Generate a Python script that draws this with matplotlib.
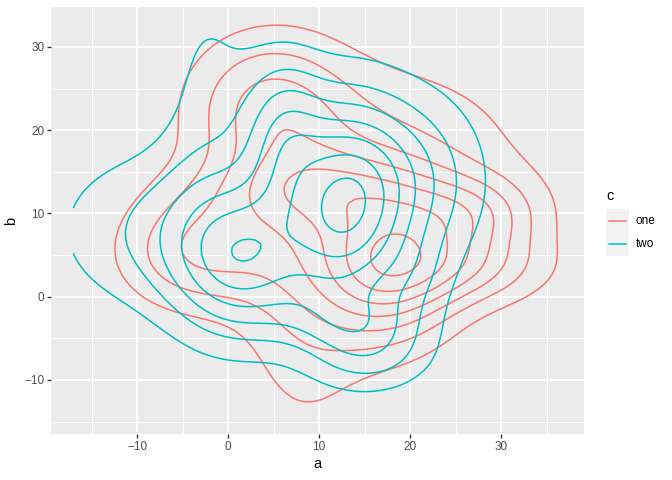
import numpy as np
import matplotlib.pyplot as plt
from matplotlib.lines import Line2D
from matplotlib.patches import Rectangle

# Density bumps for each group: centre (a, b), spread, height.
one_x = [17.51, 26.83, 10.13, 17.55, 3.64, 26.23, 8.40, -3.06]
one_y = [3.74, 9.91, 12.85, 16.80, 22.93, 3.52, 2.70, 5.48]
one_sa = [5.47, 5.13, 9.34, 11.09, 5.95, 6.33, 5.32, 6.30]
one_sb = [6.24, 3.20, 3.25, 8.32, 6.12, 3.20, 13.78, 5.03]
one_w = [5.26, 2.64, 1.77, 1.91, 2.50, 2.50, 1.77, 2.93]
one_a_range = [-14, 37]
one_b_range = [-15.5, 33.5]

two_x = [12.71, 1.74, -2.3, 19.77, -8.74, 16.00, 20.41, 5.90, 12.99]
two_y = [10.50, 4.45, 23.5, 13.94, 7.97, -6.65, 2.03, 19.58, -2.62]
two_sa = [4.53, 5.33, 3.7, 5.85, 7.87, 4.86, 3.03, 3.26, 5.56]
two_sb = [8.93, 6.51, 13.3, 7.70, 7.11, 3.37, 3.70, 6.59, 2.52]
two_w = [5.64, 4.78, 1.12, 2.83, 1.85, 2.02, 0.93, 3.03, 1.11]
two_a_range = [-17, 30]
two_b_range = [-12.5, 33]

levels = [1, 2, 3, 4, 5, 6, 7]
groups = ["one", "two"]
COLORS = {"one": "#F8766D", "two": "#00BFC4"}


def density(xs, ys, sas, sbs, ws, a_range, b_range, n=100):
    a = np.linspace(*a_range, n)
    b = np.linspace(*b_range, n)
    aa, bb = np.meshgrid(a, b)
    z = np.zeros_like(aa)
    for x, y, sa, sb, w in zip(xs, ys, sas, sbs, ws):
        z += w * np.exp(-0.5 * ((aa - x) ** 2 / sa ** 2 + (bb - y) ** 2 / sb ** 2))
    return aa, bb, z


plt.rcParams["font.family"] = ["Liberation Sans", "DejaVu Sans"]
W_PX, H_PX = 672, 480
fig = plt.figure(figsize=(W_PX / 96, H_PX / 96), dpi=96)
ax = fig.add_axes([51 / W_PX, (H_PX - 434) / H_PX, 533 / W_PX, 427 / H_PX])
ax.set_facecolor("#EBEBEB")

surfaces = {
    "one": density(one_x, one_y, one_sa, one_sb, one_w, one_a_range, one_b_range),
    "two": density(two_x, two_y, two_sa, two_sb, two_w, two_a_range, two_b_range),
}
for name in groups:
    aa, bb, z = surfaces[name]
    ax.contour(aa, bb, z, levels=levels, colors=COLORS[name], linewidths=1.15)

ax.set_xlim(-19.45, 39.1)
ax.set_ylim(-16.5, 34.8)
ax.set_xticks([-10, 0, 10, 20, 30])
ax.set_yticks([-10, 0, 10, 20, 30])
ax.set_xticks([-15, -5, 5, 15, 25, 35], minor=True)
ax.set_yticks([-15, -5, 5, 15, 25], minor=True)
ax.grid(which="major", color="white", lw=1.4)
ax.grid(which="minor", color="white", lw=0.7)
ax.set_axisbelow(True)
for s in ax.spines.values():
    s.set_visible(False)
ax.tick_params(which="major", length=2.75, width=1.0, color="#333333", labelsize=8.8,
               labelcolor="#4D4D4D", pad=2.2)
ax.tick_params(which="minor", length=0)
ax.set_xlabel("a", fontsize=11, labelpad=3)
ax.set_ylabel("b", fontsize=11, labelpad=5)


# legend drawn by hand in pixel positions, ggplot style
def px(x, y):
    return x / W_PX, (H_PX - y) / H_PX


fig.text(*px(606, 196), "c", fontsize=11, va="center", ha="left")
for i, name in enumerate(groups):
    top = 209 + i * 23.5
    x0, y0 = px(606, top + 23.5)
    fig.patches.append(Rectangle((x0, y0), 23 / W_PX, 23.5 / H_PX, transform=fig.transFigure,
                                 facecolor="#F2F2F2", edgecolor="none"))
    yc = top + 11.75
    fig.lines.append(Line2D([609 / W_PX, 626 / W_PX], [(H_PX - yc) / H_PX] * 2, transform=fig.transFigure,
                            color=COLORS[name], lw=1.15))
    fig.text(*px(636, yc), name, fontsize=8.8, va="center", ha="left")

fig.savefig("out.png", dpi=96)
